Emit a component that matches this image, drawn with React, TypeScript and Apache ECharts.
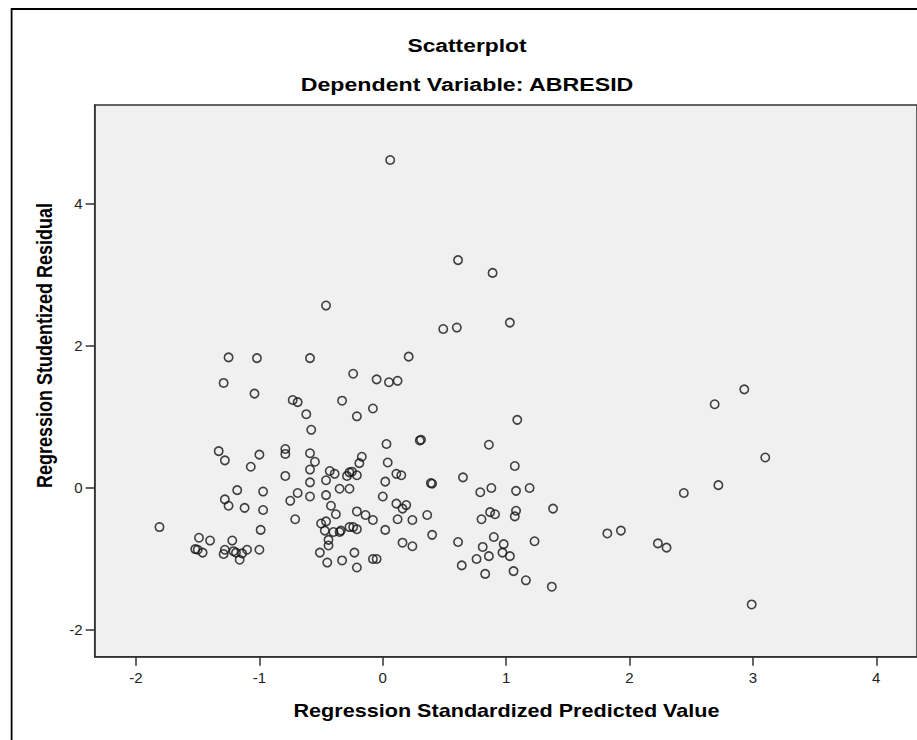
import React, { useEffect, useRef } from "react";
import * as echarts from "echarts";

const chartTitle = "Scatterplot";
const chartSubtitle = "Dependent Variable: ABRESID";
const xAxisTitle = "Regression Standardized Predicted Value";
const yAxisTitle = "Regression Studentized Residual";

const xTicks = [-2, -1, 0, 1, 2, 3, 4];
const yTicks = [-2, 0, 2, 4];

// Regression Standardized Predicted Value (x)
const predicted = [
  0.49, -1.25, -1.02, -0.59, 0.21, -1.29, -1.04, -0.24, -0.05, 0.05,
  0.12, -0.73, -0.69, -0.33, -0.62, -0.08, -0.21, -0.58, 0.30, 0.31,
  0.03, -1.33, -1.28, -1.0, -1.07, -0.79, -0.79, -0.59, -0.55, -0.17,
  -0.19, 0.04, -0.59, -0.43, -0.39, -0.27, -0.25, -0.29, -0.21, 0.11,
  0.15, -0.79, -0.59, -0.46, 0.02, 0.39, 0.40, -1.18, -0.97, -1.28,
  -1.25, -1.12, -0.97, -0.69, -0.75, -0.59, -0.46, -0.35, -0.27, 0.0,
  0.11, 0.19, 0.16, -0.42, -0.38, -0.21, -0.14, -0.08, 0.12, 0.24,
  0.36, -0.71, -1.81, -0.99, -0.5, -0.46, -0.47, -0.4, -0.35, -0.34,
  -0.27, -0.24, -0.21, 0.02, 0.4, -1.49, -1.4, -1.22, -1.52, -1.5,
  -1.46, -1.28, -1.29, -1.21, -1.19, -1.14, -1.1, -1.0, -1.16, -0.44,
  -0.44, -0.51, -0.45, -0.33, -0.23, -0.21, -0.08, -0.05, 0.16, 0.24,
  0.06, 0.61, 0.89, -0.46, 0.6, 1.03,
  2.93, 2.69, 3.1, 2.72, 2.44, 1.82, 1.93, 2.23, 2.3, 2.99,
  1.09, 0.86, 1.07, 0.65, 0.79, 0.88, 1.08, 1.19, 0.87, 0.91,
  0.8, 1.08, 1.07, 1.38, 0.61, 0.9, 0.81, 0.98, 0.97, 0.86,
  0.76, 1.03, 1.23, 0.64, 0.83, 1.06, 1.16, 1.37,
];

// Regression Studentized Residual (y)
const residual = [
  2.23, 1.83, 1.82, 1.82, 1.84, 1.47, 1.32, 1.6, 1.52, 1.48,
  1.5, 1.23, 1.2, 1.22, 1.03, 1.11, 1.0, 0.81, 0.66, 0.67,
  0.61, 0.51, 0.38, 0.46, 0.29, 0.54, 0.47, 0.48, 0.36, 0.43,
  0.34, 0.35, 0.25, 0.23, 0.19, 0.21, 0.22, 0.16, 0.17, 0.19,
  0.17, 0.16, 0.07, 0.1, 0.08, 0.06, 0.05, -0.04, -0.06, -0.17,
  -0.26, -0.29, -0.32, -0.08, -0.19, -0.13, -0.11, -0.02, -0.02, -0.13,
  -0.23, -0.25, -0.3, -0.26, -0.38, -0.34, -0.39, -0.46, -0.45, -0.46,
  -0.39, -0.45, -0.56, -0.6, -0.51, -0.48, -0.61, -0.63, -0.63, -0.61,
  -0.56, -0.56, -0.59, -0.6, -0.67, -0.71, -0.75, -0.75, -0.87, -0.88,
  -0.92, -0.88, -0.94, -0.9, -0.92, -0.93, -0.88, -0.88, -1.02, -0.74,
  -0.82, -0.92, -1.06, -1.03, -0.92, -1.13, -1.01, -1.01, -0.78, -0.83,
  4.61, 3.2, 3.02, 2.56, 2.25, 2.32,
  1.38, 1.17, 0.42, 0.03, -0.08, -0.65, -0.61, -0.79, -0.85, -1.65,
  0.95, 0.6, 0.3, 0.14, -0.07, -0.01, -0.05, -0.01, -0.35, -0.38,
  -0.45, -0.33, -0.41, -0.3, -0.77, -0.7, -0.84, -0.8, -0.92, -0.97,
  -1.01, -0.97, -0.76, -1.1, -1.22, -1.18, -1.31, -1.4,
];

const FONT = "'Liberation Sans', Arial, Helvetica, sans-serif";

export default function App() {
  const ref = useRef<HTMLDivElement>(null);

  useEffect(() => {
    if (!ref.current) return;
    const chart = echarts.init(ref.current, null, { renderer: "svg" });
    const points = predicted.map((x, i) => [x, residual[i]]);

    const titleText = (text: string, x: number, y: number, size: number, stretch: number) => ({
      type: "text",
      x,
      y,
      scaleX: stretch,
      silent: true,
      style: {
        text,
        fill: "#000",
        font: `bold ${size}px ${FONT}`,
        align: "center",
        verticalAlign: "middle",
      },
    });

    chart.setOption({
      animation: false,
      backgroundColor: "#ffffff",
      grid: {
        left: 94.7,
        top: 105,
        right: -1,
        bottom: 83.3,
        show: true,
        backgroundColor: "#f0f0f0",
        borderColor: "#333333",
        borderWidth: 1.5,
      },
      xAxis: {
        type: "value",
        min: -2.335,
        max: 4.33,
        splitLine: { show: false },
        axisLine: { show: true, onZero: false, lineStyle: { color: "#333333", width: 1.5 } },
        axisTick: {
          show: true,
          length: 9,
          customValues: xTicks,
          lineStyle: { color: "#333333", width: 1.5 },
        },
        axisLabel: {
          customValues: xTicks,
          margin: 13,
          color: "#222",
          fontSize: 15,
          fontFamily: FONT,
        },
      },
      yAxis: {
        type: "value",
        min: -2.386,
        max: 5.385,
        splitLine: { show: false },
        axisLine: { show: true, onZero: false, lineStyle: { color: "#333333", width: 1.5 } },
        axisTick: {
          show: true,
          length: 9,
          customValues: yTicks,
          lineStyle: { color: "#333333", width: 1.5 },
        },
        axisLabel: {
          customValues: yTicks,
          margin: 12,
          color: "#222",
          fontSize: 15,
          fontFamily: FONT,
        },
      },
      graphic: [
        {
          type: "rect",
          silent: true,
          shape: { x: 11.6, y: 9, width: 1200, height: 1200 },
          style: { fill: "none", stroke: "#000", lineWidth: 1.8 },
          z: 100,
        },
        titleText(chartTitle, 467, 45, 19, 1.2),
        titleText(chartSubtitle, 467, 84, 19, 1.22),
        titleText(xAxisTitle, 506.5, 711, 18, 1.2),
        {
          type: "text",
          x: 44,
          y: 345.5,
          rotation: Math.PI / 2,
          scaleY: 1.2,
          silent: true,
          style: {
            text: yAxisTitle,
            fill: "#000",
            font: `bold 18px ${FONT}`,
            align: "center",
            verticalAlign: "middle",
          },
        },
      ],
      series: [
        {
          type: "scatter",
          data: points,
          symbol: "circle",
          symbolSize: 8.4,
          itemStyle: {
            color: "rgba(0,0,0,0)",
            borderColor: "#141414",
            borderWidth: 1.6,
          },
          emphasis: { disabled: true },
          silent: true,
        },
      ],
    });

    return () => chart.dispose();
  }, []);

  return (
    <div
      ref={ref}
      style={{ position: "fixed", left: 0, top: 0, width: 917, height: 740 }}
    />
  );
}
